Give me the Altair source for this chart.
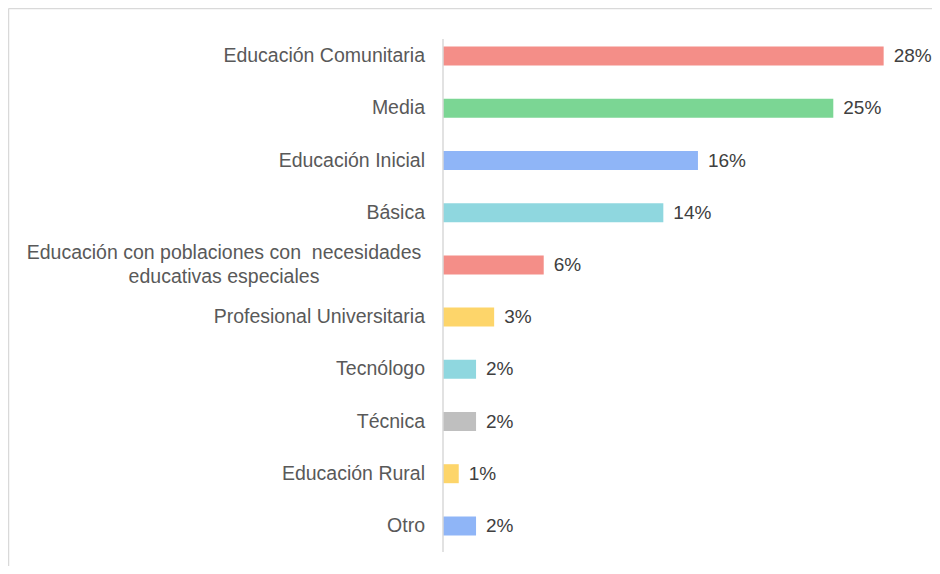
import altair as alt
import pandas as pd

categories = [
    "Educación Comunitaria",
    "Media",
    "Educación Inicial",
    "Básica",
    "Educación con poblaciones con  necesidades educativas especiales",
    "Profesional Universitaria",
    "Tecnólogo",
    "Técnica",
    "Educación Rural",
    "Otro",
]
display_labels = [
    "Educación Comunitaria",
    "Media",
    "Educación Inicial",
    "Básica",
    "Educación con poblaciones con\u00a0 necesidades\neducativas especiales",
    "Profesional Universitaria",
    "Tecnólogo",
    "Técnica",
    "Educación Rural",
    "Otro",
]
values = [28.0, 24.8, 16.2, 14.0, 6.4, 3.25, 2.1, 2.1, 1.0, 2.1]
colors = ["#F48E88", "#7BD694", "#8FB5F7", "#8FD7DF", "#F48E88",
          "#FDD56A", "#8FD7DF", "#BFBFBF", "#FDD56A", "#8FB5F7"]
two_line = [False, False, False, False, True, False, False, False, False, False]

df = pd.DataFrame({
    "category": categories,
    "label": display_labels,
    "value": values,
    "two": two_line,
})

FONT = "Liberation Sans"

y_enc = alt.Y("category:N", sort=categories,
              scale=alt.Scale(domain=categories, paddingInner=0, paddingOuter=0),
              axis=None)
x_scale = alt.Scale(domain=[0, 30.5], nice=False, zero=True)

base = alt.Chart(df)

bars = base.mark_bar(size=19).encode(
    y=y_enc,
    x=alt.X("value:Q", scale=x_scale, axis=None),
    color=alt.Color("category:N", scale=alt.Scale(domain=categories, range=colors), legend=None),
)

values_text = base.transform_calculate(
    txt="format(datum.value, '.0f') + '%'"
).mark_text(align="left", baseline="middle", dx=10, font=FONT, fontSize=19, color="#404040").encode(
    y=y_enc,
    x=alt.X("value:Q", scale=x_scale),
    text="txt:N",
)

cat_single = base.transform_filter("!datum.two").mark_text(
    align="right", baseline="middle", font=FONT, fontSize=19.5, color="#595959"
).encode(
    y=y_enc,
    x=alt.value(-18),
    text="label:N",
)

cat_double = base.transform_filter("datum.two").mark_text(
    align="center", baseline="middle", font=FONT, fontSize=19.5, color="#595959",
    lineBreak="\n", lineHeight=24, dy=-12
).encode(
    y=y_enc,
    x=alt.value(-219),
    text="label:N",
)

one = pd.DataFrame({"a": [0]})

axis_rule = alt.Chart(one).mark_rule(color="#D9D9D9", strokeWidth=1.5).encode(
    x=alt.value(0),
    y=alt.value(9),
    y2=alt.value(522),
)

border_left = alt.Chart(one).mark_rule(color="#D9D9D9", strokeWidth=1.5).encode(
    x=alt.value(-434.5),
    y=alt.value(-21.5),
    y2=alt.value(600),
)

border_top = alt.Chart(one).mark_rule(color="#D9D9D9", strokeWidth=1.5).encode(
    y=alt.value(-21.5),
    x=alt.value(-434.5),
    x2=alt.value(600),
)

chart = alt.layer(border_left, border_top, bars, axis_rule, values_text, cat_single, cat_double).properties(
    width=480,
    height=522,
    autosize=alt.AutoSizeParams(type="none"),
    padding={"left": 435, "top": 22, "right": 9, "bottom": 14},
).configure(background="white").configure_view(strokeWidth=0, stroke="transparent")

chart.save("out.html", embed_options={"renderer": "svg", "actions": False})
